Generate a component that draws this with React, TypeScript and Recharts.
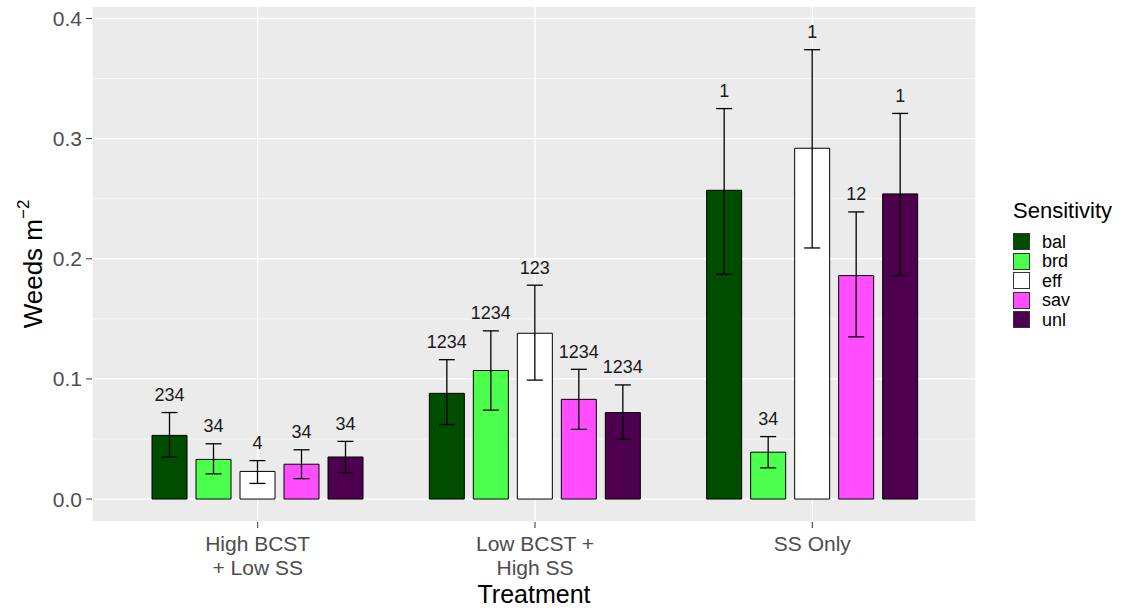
import React from 'react';
import {
    BarChart,
    Bar,
    XAxis,
    YAxis,
    CartesianGrid,
    ErrorBar,
    LabelList,
    Legend,
    Label,
} from 'recharts';

const FONT = '"Liberation Sans", Arial, sans-serif';

// x categories
const treatments = ['High BCST\n+ Low SS', 'Low BCST +\nHigh SS', 'SS Only'];

// sensitivity groups + fill colours
const sensitivities = ['bal', 'brd', 'eff', 'sav', 'unl'];
const fills = ['#004D00', '#4DFF4D', '#FFFFFF', '#FF4DFF', '#4D004D'];

// means, lower / upper limits, letters (per treatment)
const balMean = [0.053, 0.088, 0.257];
const balLow = [0.035, 0.062, 0.187];
const balHigh = [0.072, 0.116, 0.325];
const balLetters = ['234', '1234', '1'];

const brdMean = [0.033, 0.107, 0.039];
const brdLow = [0.021, 0.074, 0.026];
const brdHigh = [0.046, 0.140, 0.052];
const brdLetters = ['34', '1234', '34'];

const effMean = [0.023, 0.138, 0.292];
const effLow = [0.013, 0.099, 0.209];
const effHigh = [0.032, 0.178, 0.374];
const effLetters = ['4', '123', '1'];

const savMean = [0.029, 0.083, 0.186];
const savLow = [0.017, 0.058, 0.135];
const savHigh = [0.041, 0.108, 0.239];
const savLetters = ['34', '1234', '12'];

const unlMean = [0.035, 0.072, 0.254];
const unlLow = [0.022, 0.050, 0.186];
const unlHigh = [0.048, 0.095, 0.321];
const unlLetters = ['34', '1234', '1'];

const yTicks = [0, 0.1, 0.2, 0.3, 0.4];
const yMinor = [0.05, 0.15, 0.25, 0.35];

const series: Record<string, { mean: number[]; low: number[]; high: number[]; letters: string[] }> = {
    bal: { mean: balMean, low: balLow, high: balHigh, letters: balLetters },
    brd: { mean: brdMean, low: brdLow, high: brdHigh, letters: brdLetters },
    eff: { mean: effMean, low: effLow, high: effHigh, letters: effLetters },
    sav: { mean: savMean, low: savLow, high: savHigh, letters: savLetters },
    unl: { mean: unlMean, low: unlLow, high: unlHigh, letters: unlLetters },
};

const data = treatments.map((t, i) => {
    const row: any = { treatment: t };
    sensitivities.forEach((s) => {
        const m = series[s].mean[i];
        row[s] = m;
        row[s + '_err'] = [m - series[s].low[i], series[s].high[i] - m];
    });
    return row;
});

function TreatmentTick(props: any) {
    const { x, y, payload } = props;
    const lines = String(payload.value).split('\n');
    return (
        <text x={x} y={y} textAnchor="middle" fill="#4D4D4D" fontSize={21} fontFamily={FONT}>
            {lines.map((l, i) => (
                <tspan key={i} x={x} dy={i === 0 ? '0.71em' : '1.15em'}>
                    {l}
                </tspan>
            ))}
        </text>
    );
}

// letter label sitting above the upper error bar
const makeSigLabel = (key: string) => (props: any) => {
    const vb = props.viewBox || props;
    const { x, y, width, height } = vb;
    const value = Number(props.value);
    const idx = props.index;
    if (!value || !height) return null;
    const pxPerUnit = height / value;
    const topPx = y + height - series[key].high[idx] * pxPerUnit;
    return (
        <text x={x + width / 2} y={topPx - 11.5} textAnchor="middle" fill="#1A1A1A" fontSize={18} fontFamily={FONT}>
            {series[key].letters[idx]}
        </text>
    );
};

const YTitle = (props: any) => {
    const vb = props.viewBox;
    const cy = vb.y + vb.height / 2;
    return (
        <text transform={`translate(42, ${cy}) rotate(-90)`} textAnchor="middle" fill="#000" fontSize={26} fontFamily={FONT}>
            Weeds m
            <tspan dy={-13} fontSize={17}>
                −2
            </tspan>
        </text>
    );
};

const LegendBox = () => (
    <div style={{ fontFamily: FONT, color: '#000' }}>
        <div style={{ fontSize: 22, lineHeight: '24px', marginBottom: 9 }}>Sensitivity</div>
        {sensitivities.map((s, i) => (
            <div key={s} style={{ display: 'flex', alignItems: 'center', height: 19.5 }}>
                <span
                    style={{
                        display: 'inline-block',
                        width: 17,
                        height: 17,
                        boxSizing: 'border-box',
                        background: fills[i],
                        border: '1px solid #333',
                    }}
                />
                <span style={{ marginLeft: 12, fontSize: 18, lineHeight: '18px' }}>{s}</span>
            </div>
        ))}
    </div>
);

export default function App() {
    return (
        <div style={{ position: 'absolute', left: 0, top: 0, width: 1126, height: 614, background: '#fff' }}>
            <BarChart
                width={1126}
                height={614}
                data={data}
                margin={{ top: 6, right: 150, bottom: 0, left: 0 }}
                barGap={9}
                style={{ fontFamily: FONT }}
            >
                <CartesianGrid fill="#EBEBEB" stroke="#FFFFFF" strokeWidth={1.3} />
                <CartesianGrid horizontalValues={yMinor} vertical={false} stroke="#FFFFFF" strokeWidth={0.6} />
                <XAxis
                    dataKey="treatment"
                    interval={0}
                    padding={{ left: 27, right: 25 }}
                    axisLine={false}
                    tickSize={6}
                    tickMargin={8}
                    tickLine={{ stroke: '#333333' }}
                    tick={<TreatmentTick />}
                    height={92}
                >
                    <Label value="Treatment" position="insideBottom" offset={11} fill="#000" fontSize={25} fontFamily={FONT} />
                </XAxis>
                <YAxis
                    domain={[-0.0191, 0.4104]}
                    ticks={yTicks}
                    allowDataOverflow
                    tickFormatter={(v: number) => v.toFixed(1)}
                    axisLine={false}
                    tickSize={6}
                    tickMargin={4}
                    tickLine={{ stroke: '#333333' }}
                    tick={{ fill: '#4D4D4D', fontSize: 21, fontFamily: FONT }}
                    width={92}
                >
                    <Label content={<YTitle />} />
                </YAxis>
                <Legend
                    layout="vertical"
                    align="center"
                    verticalAlign="middle"
                    wrapperStyle={{ left: 1013, top: 199, width: 110 }}
                    content={<LegendBox />}
                />
                {sensitivities.map((s, i) => (
                    <Bar
                        key={s}
                        dataKey={s}
                        name={s}
                        fill={fills[i]}
                        stroke="#000000"
                        strokeWidth={1}
                        barSize={35}
                        isAnimationActive={false}
                    >
                        <ErrorBar dataKey={s + '_err'} width={8} stroke="#000" strokeWidth={1.3} direction="y" />
                        <LabelList dataKey={s} content={makeSigLabel(s)} />
                    </Bar>
                ))}
            </BarChart>
        </div>
    );
}
